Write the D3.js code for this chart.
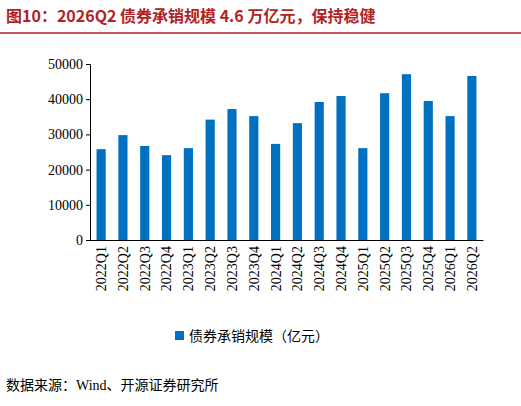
<!DOCTYPE html>
<html><head><meta charset="utf-8">
<script src="https://cdn.jsdelivr.net/npm/d3@7"></script>
<style>body{margin:0;background:#fff}</style></head>
<body><div id="chart"></div>
<script>
var categories = ['2022Q1','2022Q2','2022Q3','2022Q4','2023Q1','2023Q2','2023Q3','2023Q4','2024Q1','2024Q2','2024Q3','2024Q4','2025Q1','2025Q2','2025Q3','2025Q4','2026Q1','2026Q2'];
var values = [25800,29800,26700,24100,26100,34200,37200,35200,27300,33200,39200,40900,26100,41700,47100,39500,35200,46600];
var yTicks = [0,10000,20000,30000,40000,50000];

var svg = d3.select('#chart').append('svg').attr('width',521).attr('height',406);
var serif = '"Liberation Serif","Noto Sans CJK SC",serif';

svg.append('text').attr('x',6).attr('y',22).attr('fill','#b22222')
  .style('font-family','"Noto Sans CJK SC",sans-serif').style('font-weight','bold').style('font-size','16px')
  .text('图10：2026Q2 债券承销规模 4.6 万亿元，保持稳健');
svg.append('line').attr('x1',0).attr('x2',521).attr('y1',33).attr('y2',33).attr('stroke','#b22222').attr('stroke-width',1.5);

var x = d3.scaleBand().domain(categories).range([90,483]).paddingInner(0.58).paddingOuter(0.3);
var y = d3.scaleLinear().domain([0,50000]).range([240,64]);

svg.selectAll('rect.bar').data(values).enter().append('rect')
  .attr('x',function(d,i){return x(categories[i]);})
  .attr('y',function(d){return y(d);})
  .attr('width',x.bandwidth())
  .attr('height',function(d){return y(0)-y(d);})
  .attr('fill','#0070c0');

var ya = svg.append('g').attr('transform','translate(90,0)')
  .call(d3.axisLeft(y).tickValues(yTicks).tickSize(4).tickFormat(d3.format('d')));
ya.selectAll('text').style('font-family',serif).style('font-size','14px').attr('fill','#000');
ya.selectAll('path,line').attr('stroke','#000');

var xa = svg.append('g').attr('transform','translate(0,240)')
  .call(d3.axisBottom(x).tickSize(0).tickSizeOuter(0));
xa.select('path').attr('stroke','#000');
xa.selectAll('text').style('font-family',serif).style('font-size','14px').attr('fill','#000')
  .attr('transform','rotate(-90)').attr('text-anchor','end').attr('x',-6).attr('y',0).attr('dy','0.35em');

svg.append('rect').attr('x',175).attr('y',331).attr('width',9).attr('height',9).attr('fill','#0070c0');
svg.append('text').attr('x',189).attr('y',341).style('font-family',serif).style('font-size','14px')
  .text('债券承销规模（亿元）');

svg.append('text').attr('x',6).attr('y',390).style('font-family',serif).style('font-size','14px')
  .text('数据来源：Wind、开源证券研究所');
</script></body></html>
